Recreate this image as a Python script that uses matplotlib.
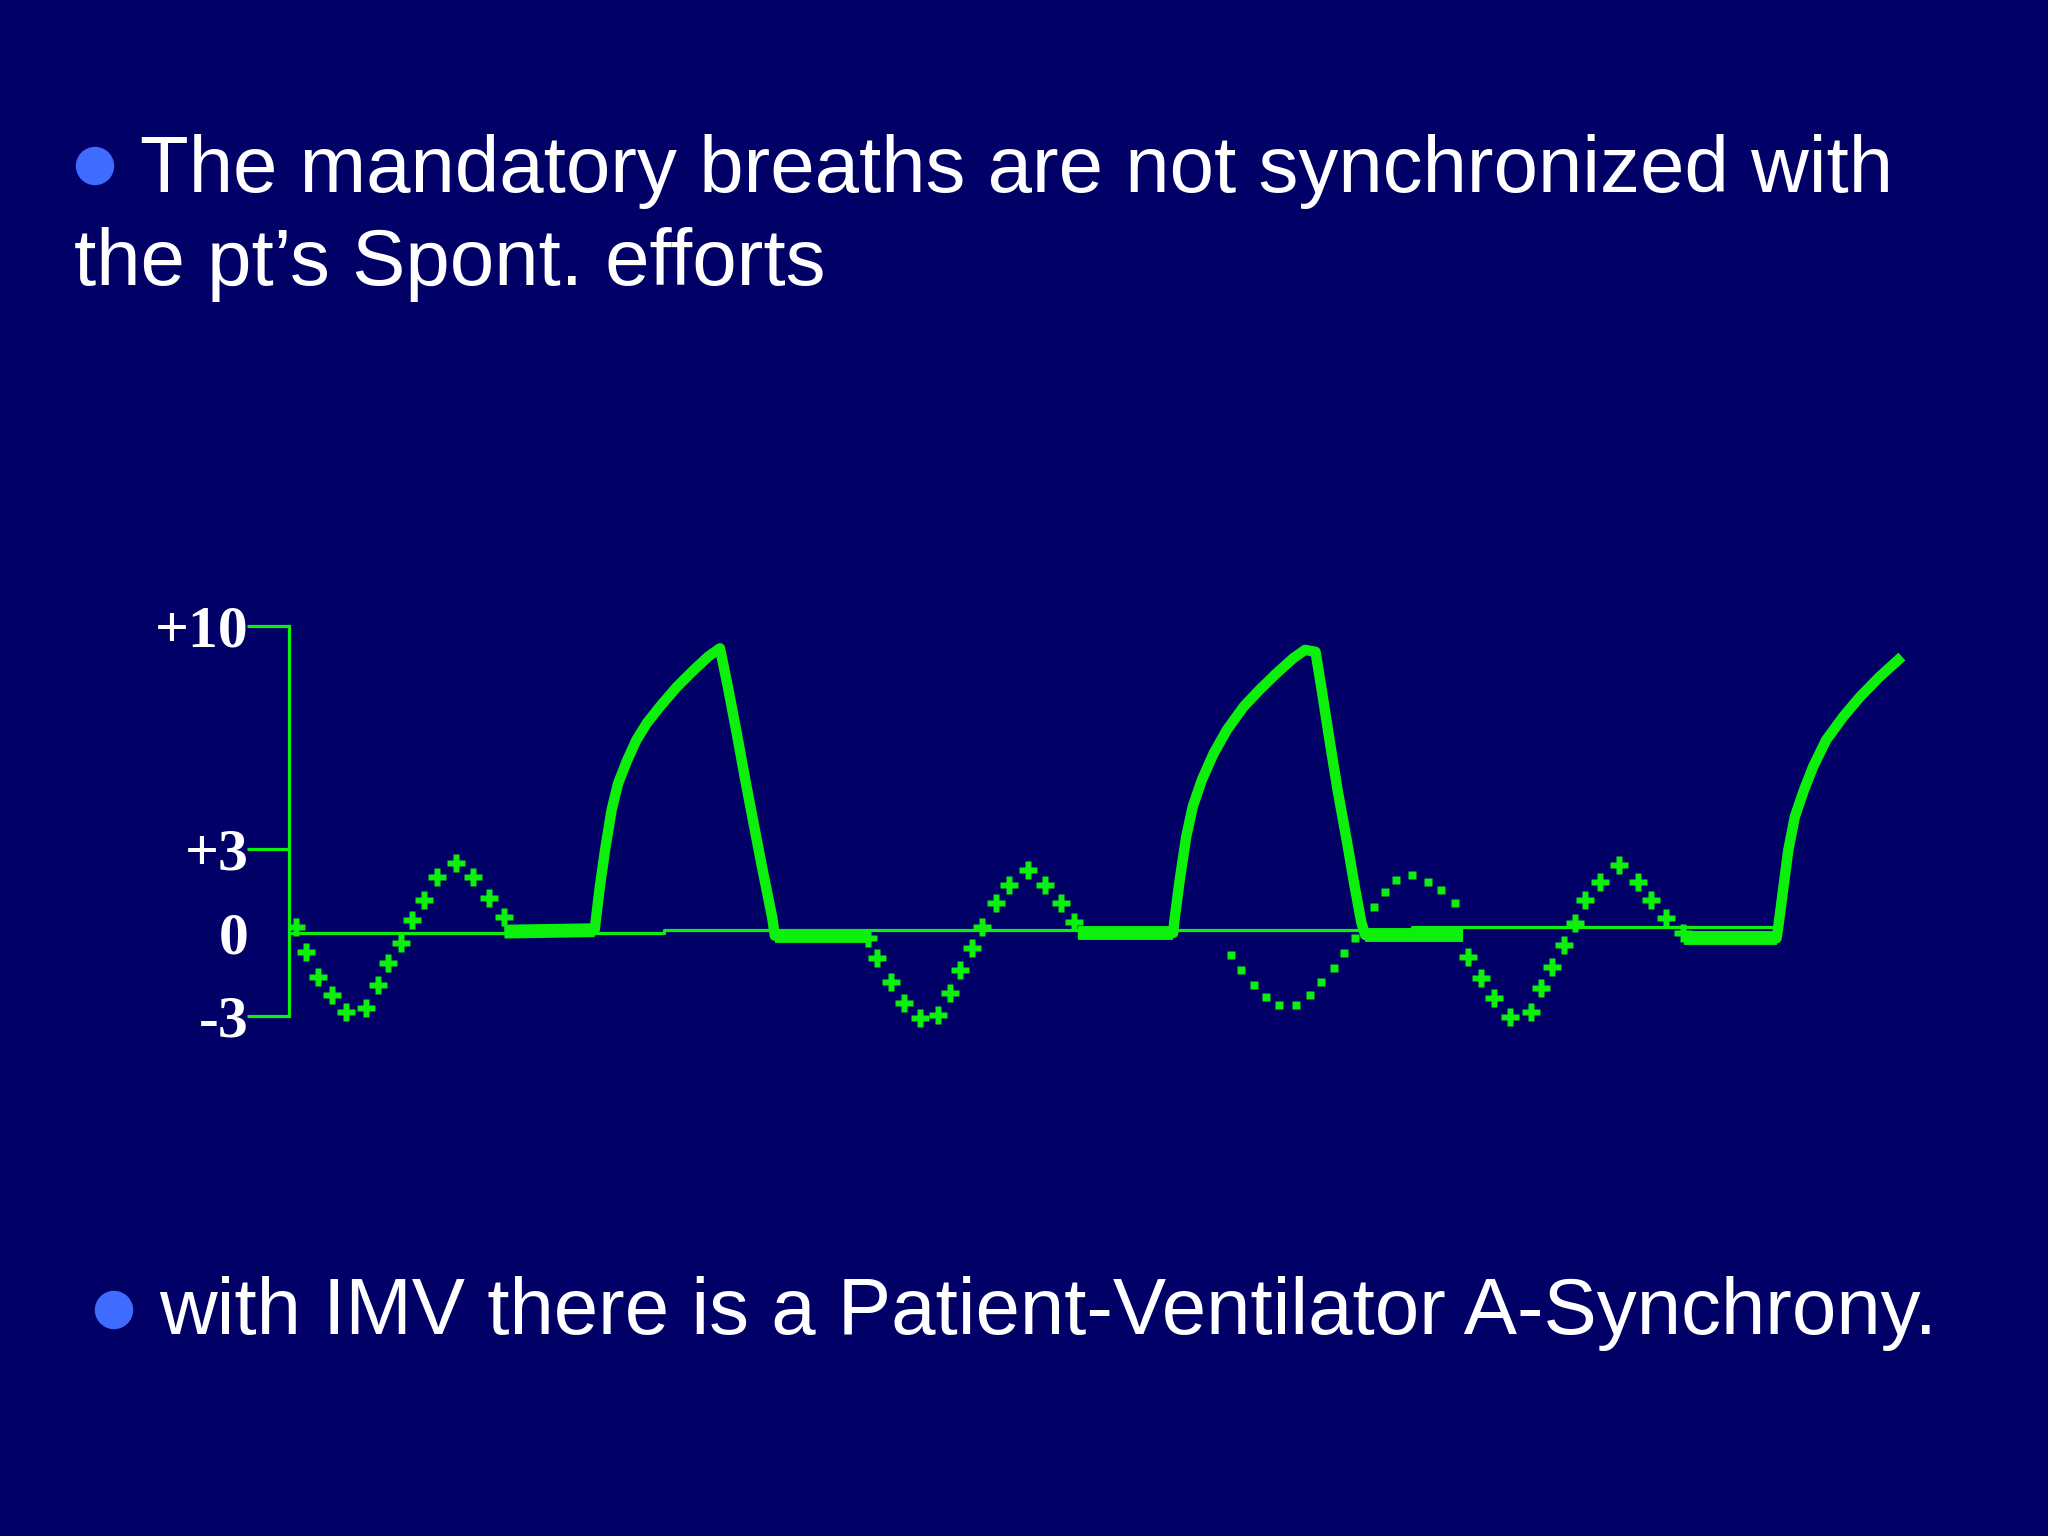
import numpy as np
import matplotlib
matplotlib.use("Agg")
import matplotlib.pyplot as plt
from matplotlib.patches import Ellipse

# ---------------- data (time in arbitrary s, pressure in cmH2O) ----------------
Y_TICKS = [10, 3, 0, -3]
Y_TICK_LABELS = ["+10", "+3", "0", "-3"]

# thin zero reference line
baseline_t = [0.0, 2.87, 2.87, 8.60, 8.60, 11.40]
baseline_v = [0.0, 0.0, 0.12, 0.12, 0.22, 0.22]

# mandatory (ventilator) breaths - solid thick trace
breath1_t = [1.65, 2.34, 2.38, 2.42, 2.47, 2.52, 2.59, 2.66, 2.74, 2.84, 2.97,
             3.10, 3.21, 3.30, 3.36, 3.43, 3.49, 3.56, 3.62, 3.70, 3.72, 4.43]
breath1_v = [0.05, 0.10, 1.65, 2.96, 4.22, 5.06, 5.79, 6.42, 6.95, 7.47, 8.09,
             8.62, 9.04, 9.30, 8.10, 6.60, 5.25, 3.75, 2.40, 0.55, -0.10, -0.10]

breath2_t = [6.04, 6.77, 6.78, 6.82, 6.87, 6.92, 6.99, 7.08, 7.18, 7.31, 7.43,
             7.56, 7.69, 7.78, 7.86, 7.91, 7.97, 8.03, 8.10, 8.16, 8.21, 8.24,
             8.99]
breath2_v = [0.0, 0.0, 0.46, 1.89, 3.39, 4.33, 5.17, 6.00, 6.73, 7.47, 7.99,
             8.51, 8.99, 9.25, 9.19, 7.93, 6.35, 4.83, 3.25, 1.66, 0.40, -0.07,
             -0.07]

breath3_t = [10.68, 11.39, 11.40, 11.44, 11.48, 11.53, 11.60, 11.67, 11.77,
             11.90, 12.03, 12.18, 12.35]
breath3_v = [-0.19, -0.19, 0.10, 1.54, 2.96, 4.01, 4.85, 5.58, 6.42,
             7.15, 7.78, 8.41, 9.04]

# spontaneous patient efforts - dotted traces
spont1_t = [0.05, 0.13, 0.22, 0.33, 0.44, 0.59, 0.68, 0.76, 0.86, 0.94, 1.03,
            1.13, 1.28, 1.41, 1.53, 1.65]
spont1_v = [0.22, -0.68, -1.58, -2.24, -2.84, -2.72, -1.88, -1.09, -0.37, 0.46,
            1.18, 2.01, 2.49, 2.01, 1.24, 0.58]

spont2_t = [4.43, 4.50, 4.61, 4.71, 4.83, 4.97, 5.06, 5.14, 5.23, 5.31, 5.41,
            5.51, 5.66, 5.79, 5.91, 6.01]
spont2_v = [-0.19, -0.91, -1.76, -2.54, -3.08, -2.96, -2.18, -1.34, -0.55, 0.23,
            1.06, 1.71, 2.25, 1.71, 1.06, 0.40]

# effort hidden under the second mandatory breath (thin dots)
hidden_t = [7.21, 7.29, 7.39, 7.48, 7.58, 7.71, 7.82, 7.90, 8.00, 8.08, 8.16,
            8.31, 8.39, 8.48, 8.60, 8.72, 8.82, 8.93]
hidden_v = [-0.79, -1.34, -1.88, -2.30, -2.60, -2.60, -2.24, -1.76, -1.27,
            -0.73, -0.19, 0.94, 1.48, 1.89, 2.07, 1.83, 1.54, 1.06]

spont3_t = [9.03, 9.13, 9.23, 9.35, 9.51, 9.59, 9.67, 9.76, 9.85, 9.92, 10.04,
            10.18, 10.33, 10.43, 10.54, 10.67]
spont3_v = [-0.85, -1.64, -2.36, -3.02, -2.84, -2.00, -1.22, -0.43, 0.35, 1.18,
            1.83, 2.43, 1.83, 1.18, 0.53, 0.0]

TITLE_1 = "The mandatory breaths are not synchronized with"
TITLE_2 = "the pt\u2019s Spont. efforts"
FOOTER = "with IMV there is a Patient-Ventilator A-Synchrony."

# ---------------- style ----------------
BG = "#000066"
GREEN = "#0CF00C"
BULLET = "#3F6BFF"
W, H = 2048, 1536

fig = plt.figure(figsize=(W / 100, H / 100), dpi=100)
fig.patch.set_facecolor(BG)

# non-uniform schematic scale of the original sketch
_vals = [-20, -3, 0, 3, 10, 30]
_pix = [-83 - 17 * 27.7, -83, 0, 84, 307, 307 + 20 * 31.86]


def fwd(v):
    return np.interp(v, _vals, _pix)


def inv(p):
    return np.interp(p, _pix, _vals)


YMIN, YMAX = -4, 11
XMAX = 13.0
px_bottom = 933 + (-fwd(YMIN))
px_top = 933 - fwd(YMAX)
ax = fig.add_axes([289 / W, 1 - px_bottom / H, XMAX * 130.6 / W,
                   (px_bottom - px_top) / H])
ax.set_facecolor("none")
ax.set_yscale("function", functions=(fwd, inv))
ax.set_ylim(YMIN, YMAX)
ax.set_xlim(0, XMAX)

for s in ["top", "right", "bottom"]:
    ax.spines[s].set_visible(False)
ax.spines["left"].set_color(GREEN)
ax.spines["left"].set_linewidth(2.3)
ax.spines["left"].set_bounds(-3, 10)
ax.set_xticks([])
ax.set_yticks(Y_TICKS)
ax.set_yticklabels(Y_TICK_LABELS, fontfamily="Liberation Serif",
                   fontweight="bold", fontsize=43, color="white")
ax.yaxis.set_minor_locator(matplotlib.ticker.NullLocator())
ax.tick_params(axis="y", direction="out", length=30, width=2.3, color=GREEN,
               pad=-1)
ax.yaxis.get_major_ticks()[2].tick1line.set_visible(False)

# thin zero line
ax.plot(baseline_t, baseline_v, color=GREEN, lw=2.3, solid_capstyle="butt")

# mandatory breaths
for bt, bv in [(breath1_t, breath1_v), (breath2_t, breath2_v),
               (breath3_t, breath3_v)]:
    ax.plot(bt, bv, color=GREEN, lw=7.5, solid_joinstyle="round",
            solid_capstyle="butt")
    # thicker flat (expiratory) plateaus
    ax.plot(bt[:2], bv[:2], color=GREEN, lw=10, solid_capstyle="butt")
for bt, bv in [(breath1_t, breath1_v), (breath2_t, breath2_v)]:
    ax.plot(bt[-2:], bv[-2:], color=GREEN, lw=10, solid_capstyle="butt")

# spontaneous efforts
for st, sv in [(spont1_t, spont1_v), (spont2_t, spont2_v), (spont3_t, spont3_v)]:
    ax.plot(st, sv, ls="none", marker="P", ms=13, color=GREEN, mec="none")
ax.plot(hidden_t, hidden_v, ls="none", marker="s", ms=6, color=GREEN,
        mec="none")

# ---------------- texts ----------------
tkw = dict(color="white", fontfamily="Liberation Sans", fontsize=57.5,
           va="baseline", ha="left")
fig.text(140 / W, 1 - 192 / H, TITLE_1, **tkw)
fig.text(74 / W, 1 - 285 / H, TITLE_2, **tkw)
fig.text(159 / W, 1 - 1334 / H, FOOTER, **tkw)

for cx, cy in [(95, 166), (114, 1310)]:
    fig.patches.append(Ellipse((cx / W, 1 - cy / H), 37 / W, 37 / H,
                               transform=fig.transFigure, color=BULLET))

fig.savefig("out.png", dpi=100, facecolor=BG)
